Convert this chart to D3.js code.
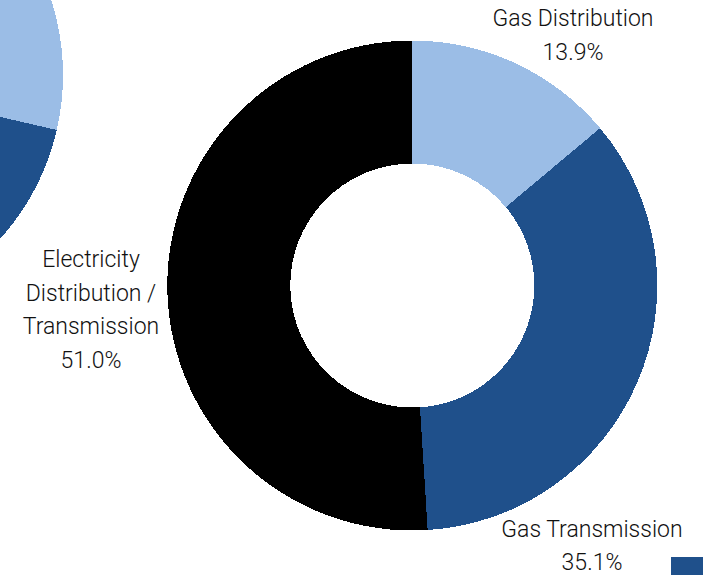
<!DOCTYPE html>
<html>
<head>
<meta charset="utf-8">
<script src="https://cdn.jsdelivr.net/npm/d3@7"></script>
<style>
  html, body { margin: 0; padding: 0; background: #fff; }
  svg { display: block; }
  text { font-family: Roboto, "Liberation Sans", Arial, sans-serif; font-weight: 300; font-size: 23px; fill: #111; }
</style>
</head>
<body>
<svg id="chart" width="703" height="575"></svg>
<script>
// Segment names and shares (%) of the main donut
const categories = ["Gas Distribution", "Gas Transmission", "Electricity Distribution / Transmission"];
const shares = [13.9, 35.1, 51.0];
// Label lines drawn next to each segment
const labelLines = [
  ["Gas Distribution"],
  ["Gas Transmission"],
  ["Electricity", "Distribution /", "Transmission"]
];
// Neighbouring donut (only its right edge falls inside the frame)
const neighbourShares = [28.6, 21.4, 50.0];

const colors = ["#9bbde6", "#1f508b", "#000000"];

const svg = d3.select("#chart");

const outerR = 245, innerR = 122;
const cx = 412.3, cy = 285.5;

const pie = d3.pie().sort(null).value(d => d);
const arc = d3.arc().innerRadius(innerR).outerRadius(outerR);

// Neighbouring donut, centred to the left of the frame
const gLeft = svg.append("g").attr("transform", `translate(${cx - 594.3},${cy - 210.5})`);
gLeft.selectAll("path")
  .data(pie(neighbourShares))
  .join("path")
  .attr("d", arc)
  .attr("fill", (d, i) => colors[i])
  .attr("shape-rendering", "crispEdges");

// Main donut
const g = svg.append("g").attr("transform", `translate(${cx},${cy})`);
g.selectAll("path")
  .data(pie(shares))
  .join("path")
  .attr("d", arc)
  .attr("fill", (d, i) => colors[i])
  .attr("shape-rendering", "crispEdges");

// Label anchors (centre x, first baseline y) and line spacing
const labelPos = [[573, 26], [592, 536.5], [91, 267]];
const lineH = 33.5;
const fmt = d3.format(".1f");

categories.forEach((c, i) => {
  const lines = labelLines[i].concat([fmt(shares[i]) + "%"]);
  const t = svg.append("text")
    .attr("text-anchor", "middle")
    .attr("x", labelPos[i][0])
    .attr("y", labelPos[i][1]);
  lines.forEach((ln, k) => {
    t.append("tspan")
      .attr("x", labelPos[i][0])
      .attr("dy", k === 0 ? 0 : lineH)
      .text(ln);
  });
});

// Legend swatch, partly outside the frame
svg.append("rect")
  .attr("x", 671).attr("y", 557)
  .attr("width", 40).attr("height", 24)
  .attr("fill", colors[1]);
</script>
</body>
</html>
